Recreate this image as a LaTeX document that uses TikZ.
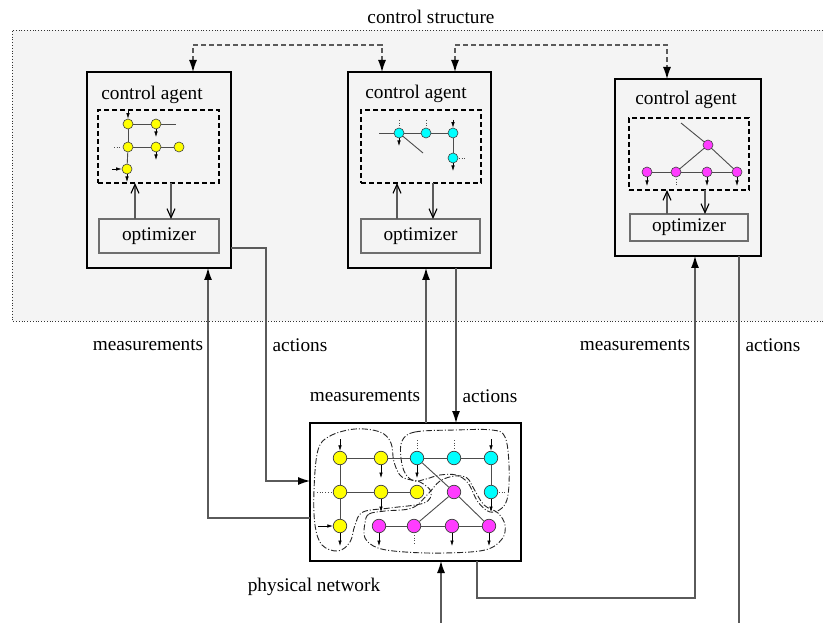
\documentclass[tikz,border=0pt]{standalone}
\usepackage{fontspec}
\setmainfont{Liberation Serif}
\usetikzlibrary{arrows.meta,calc}
\definecolor{bgc}{HTML}{F4F4F4}
\definecolor{linec}{HTML}{5A5A5A}
\definecolor{optc}{HTML}{6E6E6E}
\definecolor{ycol}{HTML}{FFFF00}
\definecolor{ccol}{HTML}{00FFFF}
\definecolor{mcol}{HTML}{FF3CFF}
\begin{document}
\begin{tikzpicture}[x=1pt,y=-1pt,
  font=\fontsize{19.3}{22}\selectfont,
  agentbox/.style={draw=black,line width=2pt,fill=bgc,inner sep=0pt,outer sep=0pt},
  netbox/.style={draw=black,line width=2pt,fill=white,inner sep=0pt,outer sep=0pt},
  dbox/.style={draw=black,line width=1.6pt,dash pattern=on 5pt off 3pt,inner sep=0pt,outer sep=0pt},
  optbox/.style={draw=optc,line width=1.2pt,fill=bgc,inner sep=0pt,outer sep=0pt},
  conn/.style={draw=linec,line width=1.1pt},
  bigtip/.style={-{Latex[length=12pt,width=8pt,black]}},
  dconn/.style={draw=linec,line width=1.1pt,dash pattern=on 5pt off 3pt,{Latex[length=12pt,width=8pt,black]}-{Latex[length=12pt,width=8pt,black]}},
  opentip/.style={draw=linec,line width=1.1pt,-{Straight Barb[length=9pt,width=8pt,black]}},
  gn/.style={circle,draw=black!75,line width=0.6pt,inner sep=0pt,minimum size=10pt},
  nn/.style={circle,draw=black!75,line width=0.7pt,inner sep=0pt,minimum size=13.5pt},
  ge/.style={draw=black!70,line width=0.9pt},
  sarr/.style={draw=black,line width=0.6pt,-{Latex[length=5.5pt,width=3.5pt]}},
  sdot/.style={draw=black!70,line width=0.7pt,dotted},
  region/.style={draw=black!85,line width=0.9pt,dash pattern=on 6pt off 2pt on 1pt off 2pt},
  lbl/.style={inner sep=0pt}
]
\useasboundingbox (0,0) rectangle (823,623);
% control structure background
\fill[bgc] (12,30) rectangle (823,321);
\draw[black!80,line width=0.8pt,dotted] (823,30) -- (12,30) -- (12,321) -- (823,321);
\node[lbl] (cs) at (431,17) {control structure};

% agents
\node[agentbox,minimum width=144pt,minimum height=196pt] (A1) at (159,170) {};
\node[agentbox,minimum width=143pt,minimum height=196pt] (A2) at (419.5,170) {};
\node[agentbox,minimum width=146pt,minimum height=177pt] (A3) at (688,167.5) {};
\node[lbl] (T1) at (152,95) {control agent};
\node[lbl] (T2) at (416,94) {control agent};
\node[lbl] (T3) at (686,100) {control agent};
\node[dbox,minimum width=121pt,minimum height=73pt] (D1) at (158.5,146.5) {};
\node[dbox,minimum width=120pt,minimum height=73pt] (D2) at (421,146.5) {};
\node[dbox,minimum width=120pt,minimum height=72pt] (D3) at (689,154) {};
\node[optbox,minimum width=120pt,minimum height=34pt] (O1) at (159,236) {optimizer};
\node[optbox,minimum width=119pt,minimum height=34pt] (O2) at (420.5,236) {optimizer};
\node[optbox,minimum width=118pt,minimum height=27pt] (O3) at (689,227.5) {optimizer};

% optimizer <-> model arrows
\coordinate (u1) at (135,200); \coordinate (v1) at (171,200);
\coordinate (u2) at (397,200); \coordinate (v2) at (433,200);
\coordinate (u3) at (667,200); \coordinate (v3) at (705,200);
\draw[opentip] (O1.north -| u1) -- (D1.south -| u1);
\draw[opentip] (D1.south -| v1) -- (O1.north -| v1);
\draw[opentip] (O2.north -| u2) -- (D2.south -| u2);
\draw[opentip] (D2.south -| v2) -- (O2.north -| v2);
\draw[opentip] (O3.north -| u3) -- (D3.south -| u3);
\draw[opentip] (D3.south -| v3) -- (O3.north -| v3);

% dashed communication links
\coordinate (t1) at (193,45); \coordinate (t2) at (382,45);
\coordinate (t3) at (455,45); \coordinate (t4) at (667,45);
\draw[dconn] (A1.north -| t1) -- (t1) -- (t2) -- (A2.north -| t2);
\draw[dconn] (A2.north -| t3) -- (t3) -- (t4) -- (A3.north -| t4);

% agent 1 model
\node[gn,fill=ycol] (a11) at (128,124) {};
\node[gn,fill=ycol] (a12) at (156,124) {};
\node[gn,fill=ycol] (a13) at (128,147) {};
\node[gn,fill=ycol] (a14) at (156,147) {};
\node[gn,fill=ycol] (a15) at (179,147) {};
\node[gn,fill=ycol] (a16) at (127,169) {};
\coordinate (a1s) at (176,124);
\draw[ge] (a11) -- (a12); \draw[ge] (a12) -- (a1s);
\draw[ge] (a11) -- (a13); \draw[ge] (a13) -- (a16);
\draw[ge] (a13) -- (a14); \draw[ge] (a14) -- (a15);
\draw[sarr] ($(a11)+(0,-13)$) -- (a11);
\draw[sarr] (a12) -- ++(0,13);
\draw[sdot] ($(a13)+(-14,0)$) -- ($(a13)+(-6,0)$);
\draw[sarr] (a14) -- ++(0,13);
\draw[sarr] ($(a16)+(-15,0)$) -- (a16);
\draw[sarr] (a16) -- ++(0,13);

% agent 2 model
\node[gn,fill=ccol] (b1) at (399,133) {};
\node[gn,fill=ccol] (b2) at (426,133) {};
\node[gn,fill=ccol] (b3) at (453,133) {};
\node[gn,fill=ccol] (b4) at (453,158) {};
\coordinate (b1s) at (379,133); \coordinate (b1d) at (423,153);
\draw[ge] (b1s) -- (b1); \draw[ge] (b1) -- (b2); \draw[ge] (b2) -- (b3);
\draw[ge] (b3) -- (b4); \draw[ge] (b1) -- (b1d);
\draw[sdot] ($(b1)+(0,-13)$) -- ($(b1)+(0,-6)$);
\draw[sarr] (b1) -- ++(0,13);
\draw[sdot] ($(b2)+(0,-13)$) -- ($(b2)+(0,-6)$);
\draw[sarr] ($(b3)+(0,-13)$) -- (b3);
\draw[sdot] ($(b4)+(6,0)$) -- ($(b4)+(14,0)$);
\draw[sarr] (b4) -- ++(0,13);

% agent 3 model
\node[gn,fill=mcol] (d0) at (708,145) {};
\node[gn,fill=mcol] (d1) at (647,172) {};
\node[gn,fill=mcol] (d2) at (676,172) {};
\node[gn,fill=mcol] (d3) at (707,172) {};
\node[gn,fill=mcol] (d4) at (737,172) {};
\coordinate (d0s) at (681,123);
\draw[ge] (d0s) -- (d0); \draw[ge] (d0) -- (d2); \draw[ge] (d0) -- (d4);
\draw[ge] (d1) -- (d2); \draw[ge] (d2) -- (d3); \draw[ge] (d3) -- (d4);
\draw[sarr] (d1) -- ++(0,14);
\draw[sdot] ($(d2)+(0,7)$) -- ($(d2)+(0,15)$);
\draw[sarr] (d3) -- ++(0,14);
\draw[sarr] (d4) -- ++(0,14);

% physical network
\node[netbox,minimum width=211pt,minimum height=138pt] (P) at (415.5,492) {};
\node[lbl] (PL) at (314,587) {physical network};

% regions
\draw[region] plot[smooth cycle,tension=0.6] coordinates {(318,450) (330,436) (355,429) (380,432) (391,443) (394,462) (402,477) (420,482) (431,492) (424,503) (390,508) (363,512) (355,525) (350,542) (338,551) (322,545) (315,525) (314,490)};
\draw[region] plot[smooth cycle,tension=0.6] coordinates {(402,441) (415,432) (455,430) (492,430) (505,437) (509,465) (508,495) (502,508) (490,512) (478,502) (468,483) (456,475) (440,475) (426,479) (414,481) (405,473) (401,458)};
\draw[region] plot[smooth cycle,tension=0.6] coordinates {(365,523) (369,514) (385,511) (412,508) (428,494) (440,481) (455,476) (467,478) (474,489) (484,505) (498,513) (505,525) (502,539) (485,550) (445,553) (405,552) (378,548) (365,538)};

% network nodes
\node[nn,fill=ycol] (y1) at (340,458) {};
\node[nn,fill=ycol] (y2) at (381,458) {};
\node[nn,fill=ccol] (c1) at (417,458) {};
\node[nn,fill=ccol] (c2) at (454,458) {};
\node[nn,fill=ccol] (c3) at (491,458) {};
\node[nn,fill=ycol] (y3) at (340,492) {};
\node[nn,fill=ycol] (y4) at (381,492) {};
\node[nn,fill=ycol] (y5) at (417,492) {};
\node[nn,fill=mcol] (m1) at (454,492) {};
\node[nn,fill=ccol] (c4) at (491,492) {};
\node[nn,fill=ycol] (y6) at (340,526) {};
\node[nn,fill=mcol] (m2) at (379,526) {};
\node[nn,fill=mcol] (m3) at (414,526) {};
\node[nn,fill=mcol] (m4) at (452,526) {};
\node[nn,fill=mcol] (m5) at (489,526) {};
\draw[ge] (y1) -- (y2); \draw[ge] (y2) -- (c1); \draw[ge] (c1) -- (c2); \draw[ge] (c2) -- (c3);
\draw[ge] (y1) -- (y3); \draw[ge] (y3) -- (y6);
\draw[ge] (y3) -- (y4); \draw[ge] (y4) -- (y5);
\draw[ge] (c3) -- (c4);
\draw[ge] (c1) -- (m1); \draw[ge] (m1) -- (m5); \draw[ge] (m1) -- (m3);
\draw[ge] (m2) -- (m3); \draw[ge] (m3) -- (m4); \draw[ge] (m4) -- (m5);
\draw[sarr] ($(y1)+(0,-19)$) -- (y1);
\draw[sarr] (y2) -- ++(0,20);
\draw[sdot] ($(c1)+(0,-18)$) -- ($(c1)+(0,-9)$);
\draw[sarr] (c1) -- ++(0,20);
\draw[sdot] ($(c2)+(0,-18)$) -- ($(c2)+(0,-9)$);
\draw[sarr] ($(c3)+(0,-19)$) -- (c3);
\draw[sdot] ($(y3)+(-23,0)$) -- ($(y3)+(-8,0)$);
\draw[sarr] (y4) -- ++(0,20);
\draw[sdot] ($(c4)+(8,0)$) -- ($(c4)+(16,0)$);
\draw[sarr] (c4) -- ++(0,20);
\draw[sarr] ($(y6)+(-22,0)$) -- (y6);
\draw[sarr] (y6) -- ++(0,20);
\draw[sarr] (m2) -- ++(0,20);
\draw[sdot] ($(m3)+(0,9)$) -- ($(m3)+(0,19)$);
\draw[sarr] (m4) -- ++(0,20);
\draw[sarr] (m5) -- ++(0,20);

% measurement / action connectors
\coordinate (m1c) at (208,518);
\draw[conn,bigtip] (P.west |- m1c) -- (m1c) -- (A1.south -| m1c);
\coordinate (k1) at (266,248); \coordinate (k2) at (266,481);
\draw[conn,bigtip] (A1.east |- k1) -- (k1) -- (k2) -- (P.west |- k2);
\coordinate (m2c) at (426,345);
\draw[conn,bigtip] (P.north -| m2c) -- (A2.south -| m2c);
\coordinate (k3) at (456,345);
\draw[conn,bigtip] (A2.south -| k3) -- (P.north -| k3);
\coordinate (m3a) at (477,598); \coordinate (m3b) at (695,598);
\draw[conn,bigtip] (P.south -| m3a) -- (m3a) -- (m3b) -- (A3.south -| m3b);
\coordinate (e3) at (739,623);
\draw[conn] (A3.south -| e3) -- (e3);
\coordinate (e0) at (441,623);
\draw[conn,bigtip] (e0) -- (P.south -| e0);

% labels
\node[lbl] (L1) at (148,345) {measurements};
\node[lbl] (L2) at (300,345) {actions};
\node[lbl] (L3) at (365,396) {measurements};
\node[lbl] (L4) at (490,396) {actions};
\node[lbl] (L5) at (635,345) {measurements};
\node[lbl] (L6) at (773,345) {actions};
\end{tikzpicture}
\end{document}
